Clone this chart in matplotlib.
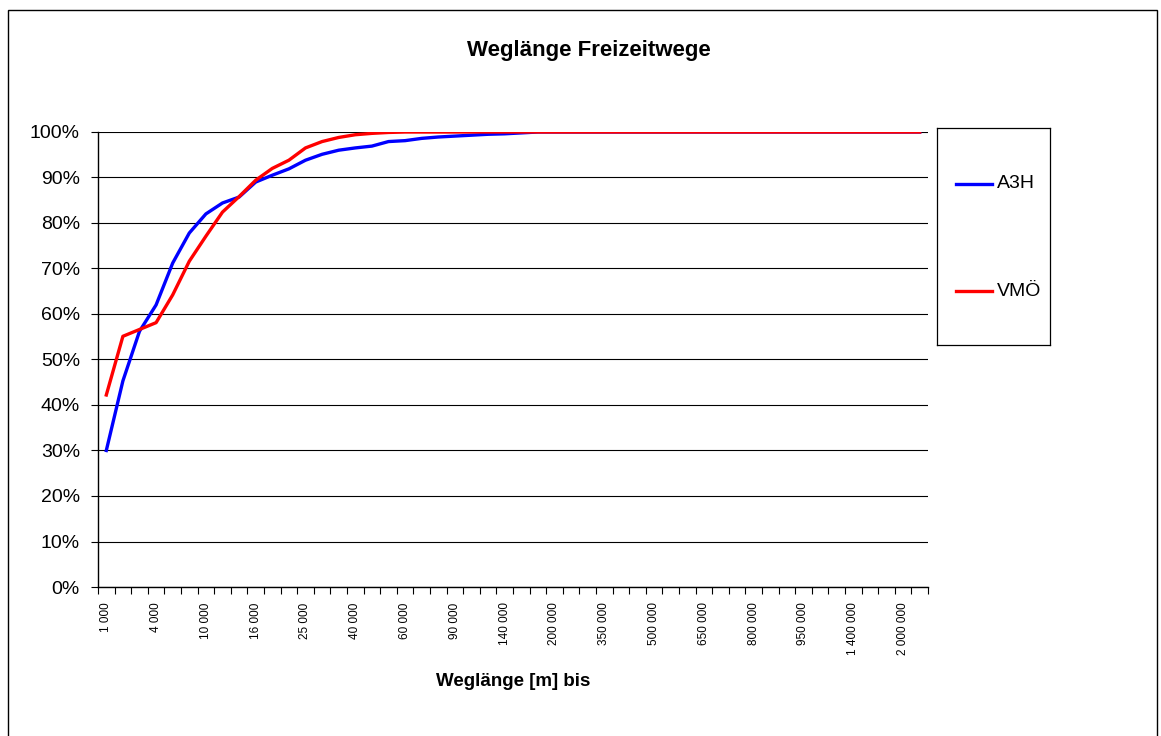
import matplotlib.pyplot as plt
from matplotlib.patches import Rectangle
from matplotlib.lines import Line2D

plt.rcParams['font.family'] = ['Liberation Sans Narrow', 'Liberation Sans', 'DejaVu Sans']

# Weglänge bis [m] (Kategorien)
distances = [1000, 2000, 3000, 4000, 6000, 8000, 10000, 12000, 14000, 16000,
             19000, 22000, 25000, 30000, 35000, 40000, 45000, 50000, 60000, 70000,
             80000, 90000, 100000, 120000, 140000, 160000, 180000, 200000, 250000, 300000,
             350000, 400000, 450000, 500000, 550000, 600000, 650000, 700000, 750000, 800000,
             850000, 900000, 950000, 1000000, 1200000, 1400000, 1600000, 1800000, 2000000, 2500000]

a3h = [30.0, 45.3, 56.2, 62.0, 71.2, 77.8, 82.0, 84.4, 85.7, 89.0,
       90.5, 91.9, 93.8, 95.1, 96.0, 96.5, 96.9, 97.9, 98.1, 98.6,
       98.9, 99.1, 99.3, 99.5, 99.6, 99.8] + [100.0] * 24
vmo = [42.2, 55.1, 56.6, 58.1, 64.2, 71.6, 77.1, 82.4, 85.8, 89.4,
       92.0, 93.8, 96.5, 97.9, 98.8, 99.4, 99.7, 99.9] + [100.0] * 32

labels = [f"{d:,}".replace(",", " ") for d in distances]
x = list(range(len(distances)))

fig = plt.figure(figsize=(11.61, 7.36), dpi=100)
ax = fig.add_axes([98 / 1161, 149 / 736, 830 / 1161, 455 / 736])

ax.plot(x, a3h, color='#0000ff', lw=2.4, label='A3H', zorder=3)
ax.plot(x, vmo, color='#ff0000', lw=2.4, label='VMÖ', zorder=3)

ax.set_xlim(-0.5, len(x) - 0.5)
ax.set_ylim(0, 100)
ax.set_yticks(range(0, 101, 10))
ax.set_yticklabels([f"{v}%" for v in range(0, 101, 10)], fontsize=14)
ax.yaxis.grid(True, color='black', lw=0.8)
ax.set_axisbelow(True)

ax.set_xticks(x[::3])
ax.set_xticklabels(labels[::3], rotation=90, fontsize=8.5)
ax.set_xticks([i - 0.5 for i in range(len(x) + 1)], minor=True)
ax.tick_params(axis='x', which='major', length=0, pad=11)
ax.tick_params(axis='x', which='minor', length=5, width=0.8, direction='out')
ax.tick_params(axis='y', length=5, width=0.8, pad=8)

for s in ['top', 'right']:
    ax.spines[s].set_visible(False)
for s in ['left', 'bottom']:
    ax.spines[s].set_linewidth(1.0)

ax.set_xlabel('Weglänge [m] bis', fontsize=13.5, fontweight='bold', labelpad=13)
fig.text(0.507, 0.932, 'Weglänge Freizeitwege', ha='center', va='center',
         fontsize=16, fontweight='bold')

# legend box
lax = fig.add_axes([937 / 1161, (736 - 345) / 736, 113 / 1161, 217 / 736])
lax.set_xlim(0, 113)
lax.set_ylim(217, 0)
lax.set_xticks([])
lax.set_yticks([])
for s in lax.spines.values():
    s.set_linewidth(0.9)
for ln, yy in zip(ax.get_lines(), [56, 163]):
    lax.add_line(Line2D([19, 55], [yy, yy], color=ln.get_color(), lw=2.4))
    lax.text(60, yy, ln.get_label(), va='center', ha='left', fontsize=14)

# outer chart border
fig.patches.append(Rectangle((8 / 1161, -0.01), 1149 / 1161, 1 - 10 / 736 + 0.01,
                             transform=fig.transFigure, fill=False, lw=1.0,
                             edgecolor='black'))

fig.savefig('out.png', dpi=100)
